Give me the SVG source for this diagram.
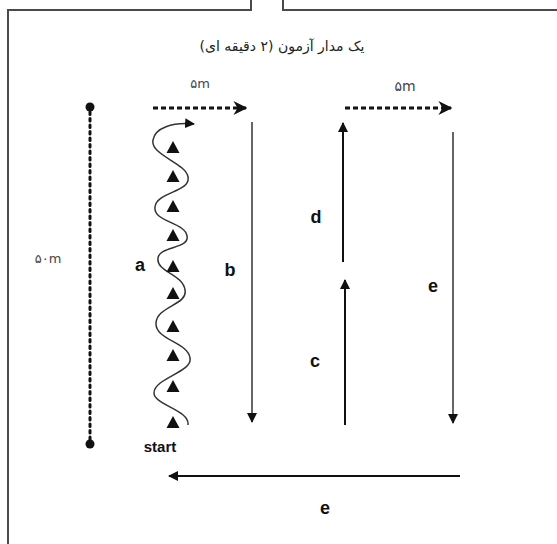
<svg xmlns="http://www.w3.org/2000/svg" width="557" height="544" viewBox="0 0 557 544">
<defs>
<style>
.frame{fill:none;stroke:#4a4a4a;stroke-width:2}
.lbl{font-family:"Liberation Sans",Arial,sans-serif;font-weight:bold;font-size:18px;fill:#111}
.fa{font-family:"DejaVu Sans","Noto Sans",sans-serif;font-size:14px;fill:#222}
.dim{font-family:"DejaVu Sans","Liberation Sans",sans-serif;font-size:13px;fill:#444}
.solid{stroke:#111;stroke-width:2;fill:none}
.thin{stroke:#333;stroke-width:1.5;fill:none}
.dash{stroke:#111;stroke-width:3;stroke-dasharray:5 3;fill:none}
.tri{fill:#111}
</style>
<marker id="ah" viewBox="0 0 10 10" refX="9" refY="5" markerWidth="10" markerHeight="10" markerUnits="userSpaceOnUse" orient="auto">
<path d="M0,0 L10,5 L0,10 z" fill="#111"/>
</marker>
<marker id="ahb" viewBox="0 0 10 10" refX="9" refY="5" markerWidth="14" markerHeight="14" markerUnits="userSpaceOnUse" orient="auto">
<path d="M0,0 L10,5 L0,10 L3,5 z" fill="#111"/>
</marker>
</defs>
<rect width="557" height="544" fill="#fff"/>
<g id="frame">
<path class="frame" d="M251,0 V10 H8 V544"/>
<path class="frame" d="M283,0 V10 H557"/>
</g>
<g id="title"><text class="fa" x="282" y="51" text-anchor="middle" direction="rtl">یک مدار آزمون (۲ دقیقه ای)</text></g>
<g id="connectors">
<line x1="90" y1="112" x2="90" y2="440" stroke="#111" stroke-width="3" stroke-dasharray="2.5 4" stroke-linecap="round"/>
<line class="dash" x1="153" y1="108" x2="246" y2="108" marker-end="url(#ahb)"/>
<line class="dash" x1="345" y1="108" x2="451" y2="108" marker-end="url(#ahb)"/>
<line class="thin" x1="252" y1="122" x2="252" y2="422" marker-end="url(#ah)"/>
<line class="solid" x1="343" y1="262" x2="343" y2="123" marker-end="url(#ah)"/>
<line class="solid" x1="345" y1="425" x2="345" y2="280" marker-end="url(#ah)"/>
<line class="thin" x1="453" y1="132" x2="453" y2="423" marker-end="url(#ah)"/>
<line class="solid" x1="460" y1="476" x2="169" y2="476" marker-end="url(#ah)"/>
<path class="thin" stroke="#111" d="M188,425 C190,410 154,405 154,393 C154,378 193,372 190,358 C188,342 155,340 156,323 C157,306 188,305 185,290 C183,274 156,272 158,258 C159,246 190,249 187,236 C185,222 153,222 155,207 C156,192 191,192 188,177 C186,163 150,155 153,140 C155,128 172,122 194,124" marker-end="url(#ah)"/>
</g>
<g id="dots">
<circle cx="90" cy="107" r="4.5" fill="#111"/>
<circle cx="90" cy="444" r="4.5" fill="#111"/>
</g>
<g id="cones">
<path class="tri" d="M173,141 l6.5,12 h-13 z"/>
<path class="tri" d="M173,170 l6.5,12 h-13 z"/>
<path class="tri" d="M173,200 l6.5,12 h-13 z"/>
<path class="tri" d="M173,229 l6.5,12 h-13 z"/>
<path class="tri" d="M173,260 l6.5,12 h-13 z"/>
<path class="tri" d="M173,287 l6.5,12 h-13 z"/>
<path class="tri" d="M173,320 l6.5,12 h-13 z"/>
<path class="tri" d="M173,349 l6.5,12 h-13 z"/>
<path class="tri" d="M173,380 l6.5,12 h-13 z"/>
<path class="tri" d="M173,416 l6.5,12 h-13 z"/>
</g>
<g id="labels">
<text class="dim" x="48" y="263" text-anchor="middle">۵۰m</text>
<text class="dim" x="200" y="88" text-anchor="middle" fill="#777">۵m</text>
<text class="dim" x="405" y="91" text-anchor="middle" style="font-size:14px">۵m</text>
<text class="lbl" x="140" y="271" text-anchor="middle">a</text>
<text class="lbl" x="230" y="276" text-anchor="middle">b</text>
<text class="lbl" x="316" y="223" text-anchor="middle">d</text>
<text class="lbl" x="315" y="367" text-anchor="middle">c</text>
<text class="lbl" x="433" y="292" text-anchor="middle">e</text>
<text class="lbl" x="325" y="514" text-anchor="middle">e</text>
<text class="lbl" x="160" y="452" text-anchor="middle" style="font-size:15px">start</text>
</g>
</svg>
